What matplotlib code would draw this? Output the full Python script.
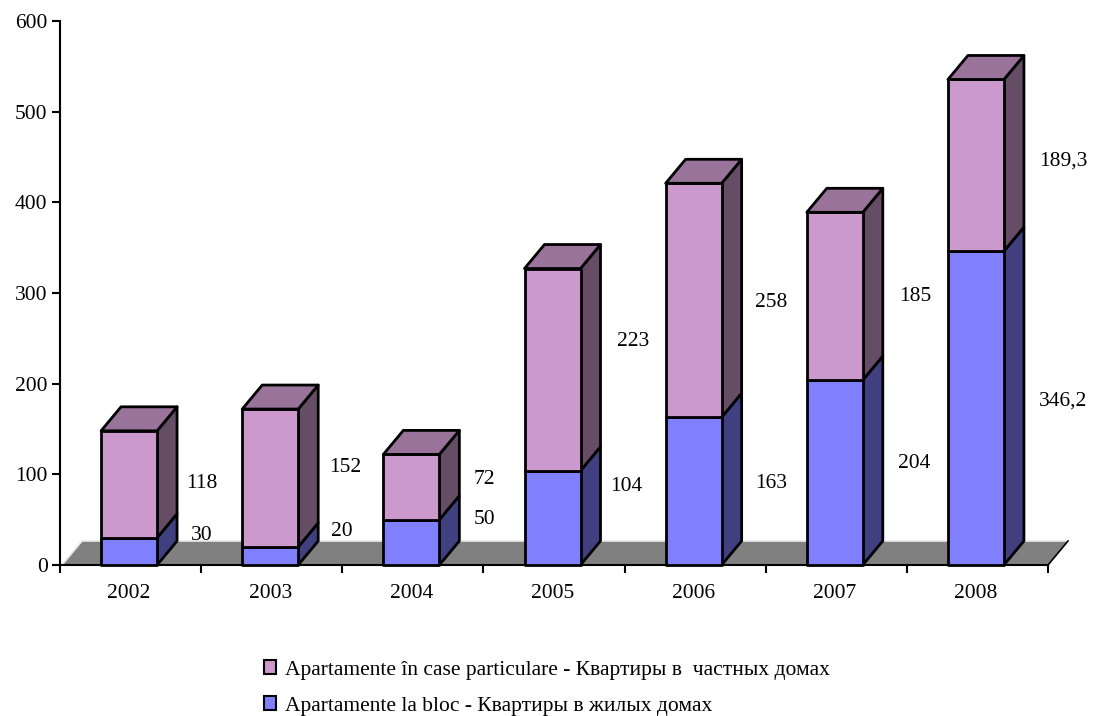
import matplotlib
matplotlib.use("Agg")
import matplotlib.pyplot as plt
from matplotlib.patches import Polygon, Patch

plt.rcParams['font.family'] = ['Liberation Serif', 'DejaVu Serif']

years = ['2002', '2003', '2004', '2005', '2006', '2007', '2008']
apartments_block = [30, 20, 50, 104, 163, 204, 346.2]
apartments_private = [118, 152, 72, 223, 258, 185, 189.3]
labels_block = ['30', '20', '50', '104', '163', '204', '346,2']
labels_private = ['118', '152', '72', '223', '258', '185', '189,3']
series_names = ['Apartamente în case particulare - Квартиры в  частных домах',
                'Apartamente la bloc - Квартиры в жилых домах']
yticks = [0, 100, 200, 300, 400, 500, 600]

W, H = 1093, 716
L, R, T, B = 60, 1048, 21, 565
FS = 15.5
fig = plt.figure(figsize=(W / 100, H / 100), dpi=100, facecolor='white')
ax = fig.add_axes([L / W, 1 - B / H, (R - L) / W, (B - T) / H])
ax.set_xlim(-0.5, 6.5)
ax.set_ylim(0, 600)

px_x = 7 / (R - L)
px_y = 600 / (B - T)
depth_x, depth_y = 20 * px_x, 24 * px_y
bar_w = 56 * px_x
shift = -1.5 * px_x

BLUE = ('#8080ff', '#404080', '#606090')
PINK = ('#cc99cc', '#664d66', '#99739a')
EDGE = dict(edgecolor='black', linewidth=2.0, joinstyle='round', zorder=4)

# floor
ax.add_patch(Polygon([(-0.5 + 2 * px_x, 0), (6.5, 0), (6.5 + depth_x, depth_y),
                      (-0.5 + depth_x + 2 * px_x, depth_y)],
                     closed=True, facecolor='#808080', edgecolor='none', zorder=1, clip_on=False))
ax.plot([-0.5 + 2 * px_x, -0.5 + depth_x + 2 * px_x, 6.5 + depth_x],
        [0, depth_y, depth_y], color='#e8e8e8', lw=1.2, zorder=1.5, clip_on=False)
ax.plot([6.5, 6.5 + depth_x], [0, depth_y], color='black', lw=1.2, zorder=1.5, clip_on=False)


def box(x0, y0, h, colors, top=False):
    x1 = x0 + bar_w
    ax.add_patch(Polygon([(x1, y0), (x1 + depth_x, y0 + depth_y),
                          (x1 + depth_x, y0 + h + depth_y), (x1, y0 + h)],
                         closed=True, facecolor=colors[1], clip_on=False, **EDGE))
    ax.add_patch(Polygon([(x0, y0), (x1, y0), (x1, y0 + h), (x0, y0 + h)],
                         closed=True, facecolor=colors[0], clip_on=False, **EDGE))
    if top:
        ax.add_patch(Polygon([(x0, y0 + h), (x1, y0 + h), (x1 + depth_x, y0 + h + depth_y),
                              (x0 + depth_x, y0 + h + depth_y)],
                             closed=True, facecolor=colors[2], clip_on=False, **EDGE))


for i in range(len(years)):
    x0 = i - bar_w / 2 + shift
    box(x0, 0, apartments_block[i], BLUE)
    box(x0, apartments_block[i], apartments_private[i], PINK, top=True)

# data labels: placed beside the bars, offset in px from the side-face centre
off_block = [(25, 4), (24, 12), (25, 11), (26, 19), (30, -4), (31, -3), (39, -5)]
off_private = [(25, -11), (27, -2), (25, -4), (33, 16), (30, -14), (33, -12), (39, -8)]
for i in range(len(years)):
    xc = i + shift + bar_w / 2 + depth_x
    yb = apartments_block[i] / 2 + depth_y / 2
    yp = apartments_block[i] + apartments_private[i] / 2 + depth_y / 2
    ax.annotate(labels_block[i], (xc, yb), xytext=(off_block[i][0] * 0.72, off_block[i][1] * 0.72),
                textcoords='offset points', ha='center', va='center', fontsize=FS, zorder=5,
                annotation_clip=False)
    ax.annotate(labels_private[i], (xc, yp), xytext=(off_private[i][0] * 0.72, off_private[i][1] * 0.72),
                textcoords='offset points', ha='center', va='center', fontsize=FS, zorder=5,
                annotation_clip=False)

for s in ('top', 'right'):
    ax.spines[s].set_visible(False)
for s in ('left', 'bottom'):
    ax.spines[s].set_linewidth(1.5)
    ax.spines[s].set_zorder(3)

ax.set_yticks(yticks)
ax.tick_params(axis='y', length=6, width=1.5, labelsize=FS, pad=3, direction='out')
ax.set_xticks([i - 0.5 for i in range(len(years) + 1)])
ax.set_xticklabels([])
ax.tick_params(axis='x', length=6, width=1.5, direction='out')
for i, y in enumerate(years):
    ax.annotate(y, (i + shift, 0), xytext=(0, -28 * 0.72), textcoords='offset points',
                ha='center', va='center', fontsize=FS, annotation_clip=False)

handles = [Patch(facecolor=PINK[0], edgecolor='black', linewidth=1.5),
           Patch(facecolor=BLUE[0], edgecolor='black', linewidth=1.5)]
fig.legend(handles, series_names, loc='upper left', bbox_to_anchor=(257.5 / W, 1 - 654 / H),
           frameon=False, fontsize=FS, handlelength=0.56, handleheight=0.56,
           handletextpad=0.42, labelspacing=0.78, borderpad=0.3, borderaxespad=0)

fig.savefig('out.png', dpi=100, facecolor='white')
